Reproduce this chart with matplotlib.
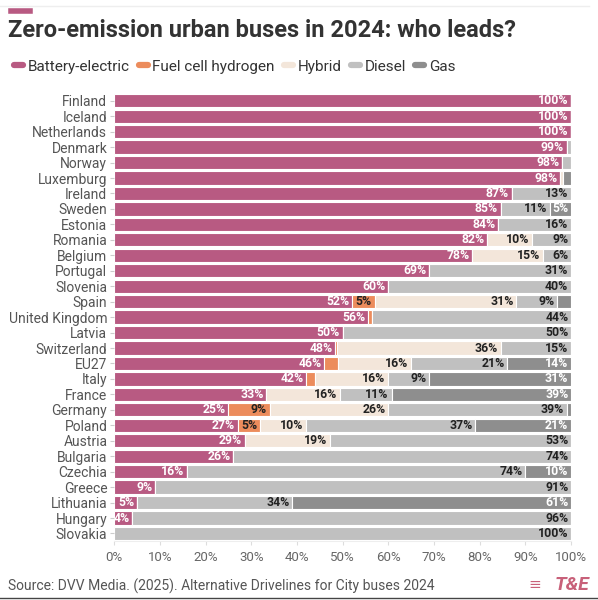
import numpy as np
import matplotlib.pyplot as plt
from matplotlib.lines import Line2D

plt.rcParams['font.family'] = ['Roboto', 'DejaVu Sans']

# share of new urban bus registrations 2024, %
countries = ["Finland", "Iceland", "Netherlands", "Denmark", "Norway", "Luxemburg",
             "Ireland", "Sweden", "Estonia", "Romania", "Belgium", "Portugal",
             "Slovenia", "Spain", "United Kingdom", "Latvia", "Switzerland", "EU27",
             "Italy", "France", "Germany", "Poland", "Austria", "Bulgaria",
             "Czechia", "Greece", "Lithuania", "Hungary", "Slovakia"]
battery = [100, 100, 100, 99, 98, 97.6, 87, 84.6, 84, 81.6, 78.4, 69, 60, 52, 55.6,
           50, 48.4, 46, 42, 33.3, 25, 27, 28.6, 26, 16, 9, 5, 4, 0]
fuelcell = [0, 0, 0, 0, 0, 0, 0, 0, 0, 0, 0, 0, 0, 5, 0.8,
            0, 0.4, 3, 2, 0, 9, 5, 0, 0, 0, 0, 0, 0, 0]
hybrid = [0, 0, 0, 0, 0, 0.6, 0, 0, 0, 9.8, 15.4, 0, 0, 31, 0,
          0, 35.8, 16, 16, 16.2, 26, 10, 18.7, 0, 0, 0, 0, 0, 0]
diesel = [0, 0, 0, 1, 2, 0, 13, 10.7, 16, 8.6, 6.2, 31, 40, 9, 43.6,
          50, 15.4, 21, 9, 11.2, 39, 37, 52.7, 74, 74, 91, 34, 96, 100]
gas = [0, 0, 0, 0, 0, 1.8, 0, 4.7, 0, 0, 0, 0, 0, 3, 0,
       0, 0, 14, 31, 39.3, 1, 21, 0, 0, 10, 0, 61, 0, 0]

series = [("Battery-electric", battery, "#b85a82", "white"),
          ("Fuel cell hydrogen", fuelcell, "#ec8c5c", "#222222"),
          ("Hybrid", hybrid, "#f3e6da", "#222222"),
          ("Diesel", diesel, "#c0c0c0", "#222222"),
          ("Gas", gas, "#8e8e8e", "white")]

fig = plt.figure(figsize=(5.98, 6), dpi=100)
ax = fig.add_axes([0.191, 0.098, 0.764, 0.747])

y = np.arange(len(countries))
left = np.zeros(len(countries))
for name, vals, col, tcol in series:
    vals = np.array(vals, dtype=float)
    ax.barh(y, vals, left=left, height=0.86, color=col, edgecolor="white", linewidth=0.8)
    for i, v in enumerate(vals):
        if v >= 3.5:
            ax.text(left[i] + v - 0.6, y[i], "%d%%" % round(v), ha="right", va="center",
                    color=tcol, fontsize=8.8, fontweight="bold")
    left += vals

ax.set_xlim(0, 100)
ax.set_ylim(len(countries) - 0.5, -0.5)
ax.set_yticks(y)
ax.set_yticklabels(countries, fontsize=10, color="#555555")
ax.set_xticks(np.arange(0, 101, 10))
ax.set_xticklabels(["%d%%" % t for t in range(0, 101, 10)], fontsize=9.5, color="#666666")
ax.tick_params(axis="y", length=3, color="#cccccc", pad=2)
ax.tick_params(axis="x", length=3, color="#dddddd", pad=4)
for s in ["top", "right", "left"]:
    ax.spines[s].set_visible(False)
ax.spines["bottom"].set_color("#eeeeee")

# header
fig.add_artist(Line2D([0.985, 0.0], [0.99, 0.99], color="#eeeeee", lw=1))
fig.add_artist(Line2D([0.018, 0.05], [0.982, 0.982], color="#b85a82", lw=4))
fig.text(0.013, 0.949, "Zero-emission urban buses in 2024: who leads?", fontsize=17,
         fontweight="bold", color="#333333", va="center")
handles = [Line2D([0], [0], color=c, lw=4.5, solid_capstyle="round") for _, _, c, _ in series]
fig.legend(handles, [n for n, _, _, _ in series], loc="center left", bbox_to_anchor=(0.0, 0.889),
           ncol=5, frameon=False, fontsize=11, handlelength=0.6, handletextpad=0.3,
           columnspacing=0.6, labelcolor="#333333")

# footer
fig.text(0.013, 0.023, "Source: DVV Media. (2025). Alternative Drivelines for City buses 2024",
         fontsize=10, color="#555555", va="center")
fig.text(0.985, 0.025, "T&E", fontsize=14, fontweight="bold", style="italic",
         color="#c8617a", ha="right", va="center")
fig.text(0.905, 0.025, "\u2261", fontsize=11, color="#c8617a", ha="right", va="center")
fig.add_artist(Line2D([0.0, 1.0], [0.004, 0.004], color="#444444", lw=1))

fig.savefig("out.png", dpi=100)
